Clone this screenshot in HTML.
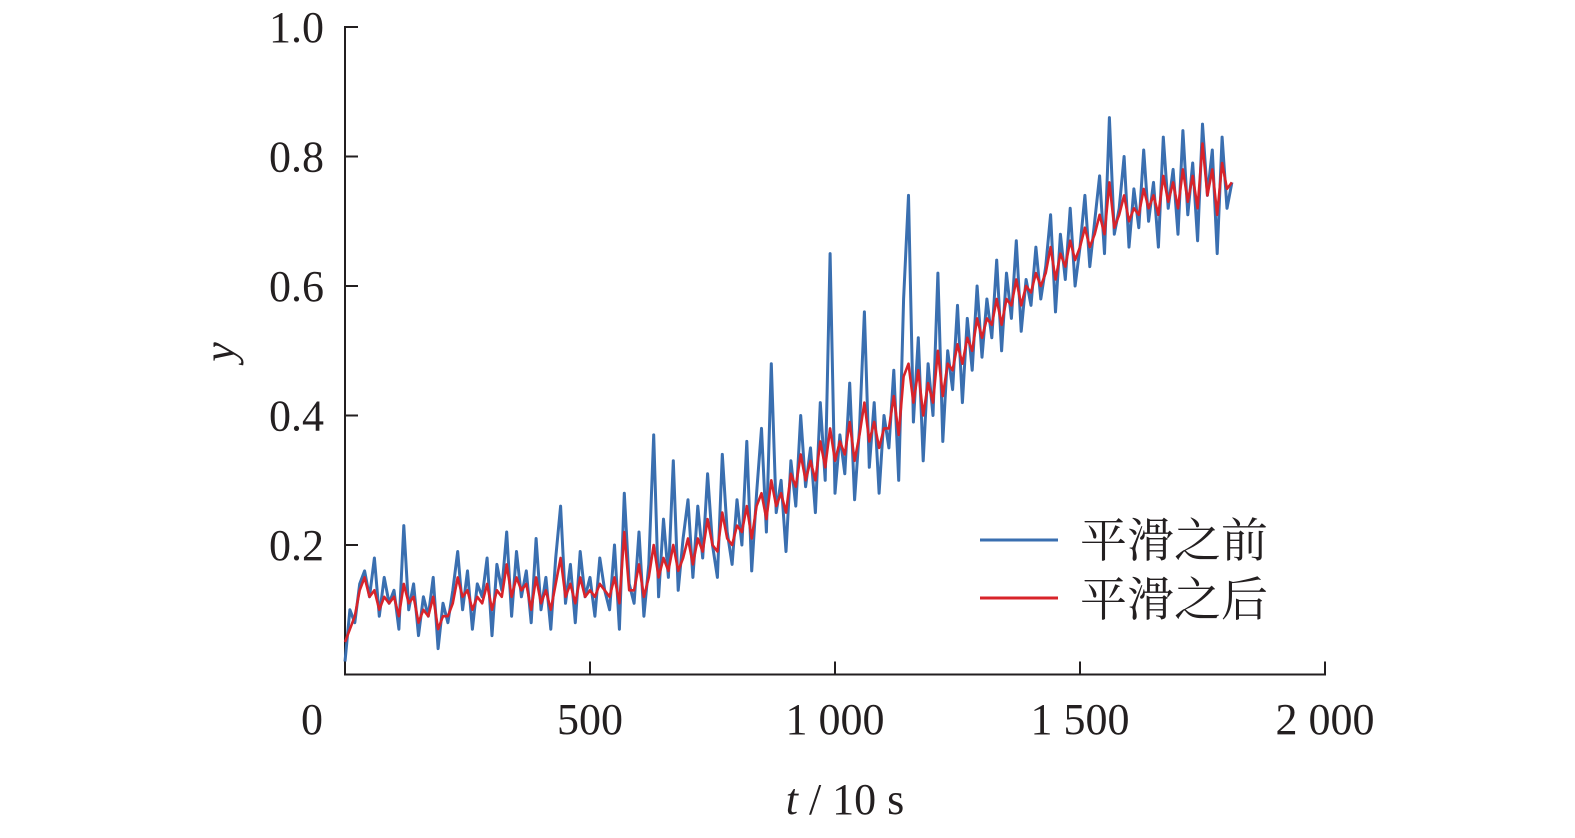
<!DOCTYPE html>
<html><head><meta charset="utf-8"><style>
body{margin:0;background:#fff;}
svg text{font-family:"Liberation Serif","Noto Serif CJK SC",serif;fill:#231f20;}
</style></head><body>
<svg id="chart" width="1575" height="833" viewBox="0 0 1575 833" xmlns="http://www.w3.org/2000/svg">
<g id="axes"></g>
<g id="series"></g>
<g id="legend">
<line x1="980" y1="540" x2="1058" y2="540" stroke="#3a6fb0" stroke-width="3"/>
<text x="1080" y="557" font-size="47" font-family="Noto Serif CJK SC, serif">平滑之前</text>
<line x1="980" y1="598" x2="1058" y2="598" stroke="#d8232a" stroke-width="3"/>
<text x="1080" y="616" font-size="47" font-family="Noto Serif CJK SC, serif">平滑之后</text>
</g>
<text transform="translate(234,352) rotate(-90)" font-size="44" font-style="italic" text-anchor="middle">y</text>
<text x="845" y="814" font-size="44" text-anchor="middle"><tspan font-style="italic">t</tspan> / 10 s</text>
</svg>
<script>
const xStep = 10;
const blueValues = [0.02,0.10,0.08,0.14,0.16,0.12,0.18,0.09,0.15,0.11,0.13,
0.07,0.23,0.10,0.14,0.06,0.12,0.09,0.15,0.04,0.11,
0.08,0.13,0.19,0.10,0.16,0.07,0.14,0.12,0.18,0.06,
0.17,0.13,0.22,0.09,0.19,0.12,0.16,0.08,0.21,0.10,
0.15,0.07,0.18,0.26,0.11,0.17,0.08,0.19,0.12,0.15,
0.09,0.18,0.13,0.10,0.20,0.07,0.28,0.14,0.11,0.22,
0.09,0.17,0.37,0.12,0.24,0.15,0.33,0.13,0.21,0.27,
0.15,0.26,0.18,0.31,0.20,0.15,0.34,0.22,0.17,0.27,
0.20,0.36,0.16,0.28,0.38,0.22,0.48,0.25,0.30,0.19,
0.33,0.26,0.40,0.29,0.35,0.25,0.42,0.30,0.65,0.28,
0.37,0.31,0.45,0.27,0.38,0.56,0.32,0.42,0.28,0.40,
0.35,0.47,0.30,0.58,0.74,0.39,0.52,0.33,0.48,0.40,
0.62,0.36,0.50,0.44,0.57,0.42,0.55,0.47,0.60,0.49,
0.58,0.52,0.64,0.50,0.62,0.55,0.67,0.53,0.61,0.57,
0.66,0.58,0.63,0.71,0.56,0.68,0.61,0.72,0.60,0.66,
0.74,0.63,0.70,0.77,0.65,0.86,0.68,0.72,0.80,0.66,
0.75,0.69,0.81,0.70,0.76,0.66,0.83,0.72,0.78,0.68,
0.84,0.71,0.79,0.67,0.85,0.74,0.81,0.65,0.83,0.72,0.76];
const redValues = [0.05,0.07,0.09,0.13,0.15,0.12,0.13,0.10,0.12,0.11,0.12,
0.09,0.14,0.11,0.12,0.08,0.10,0.09,0.12,0.07,0.09,
0.09,0.11,0.15,0.12,0.13,0.10,0.12,0.11,0.14,0.10,
0.13,0.12,0.17,0.12,0.15,0.13,0.14,0.10,0.15,0.11,
0.13,0.10,0.14,0.18,0.12,0.14,0.11,0.15,0.12,0.13,
0.12,0.14,0.13,0.12,0.15,0.11,0.22,0.13,0.13,0.17,
0.12,0.15,0.20,0.15,0.18,0.16,0.20,0.16,0.18,0.21,
0.17,0.21,0.19,0.24,0.20,0.19,0.25,0.21,0.20,0.23,
0.22,0.26,0.21,0.26,0.28,0.24,0.30,0.26,0.28,0.25,
0.31,0.29,0.34,0.30,0.33,0.30,0.36,0.32,0.38,0.33,
0.36,0.34,0.39,0.33,0.37,0.42,0.36,0.39,0.35,0.38,
0.38,0.43,0.37,0.46,0.48,0.42,0.47,0.40,0.45,0.42,
0.50,0.43,0.48,0.47,0.51,0.48,0.52,0.50,0.55,0.52,
0.55,0.54,0.58,0.54,0.58,0.57,0.61,0.57,0.60,0.59,
0.62,0.60,0.62,0.66,0.61,0.65,0.63,0.67,0.64,0.66,
0.69,0.66,0.68,0.71,0.68,0.76,0.69,0.71,0.74,0.70,
0.72,0.71,0.75,0.72,0.74,0.71,0.77,0.73,0.76,0.72,
0.78,0.73,0.77,0.72,0.82,0.74,0.78,0.71,0.79,0.75,0.76];
const xTicks = [0,500,1000,1500,2000];
const xTickLabels = ["0","500","1 000","1 500","2 000"];
const yTicks = [0.2,0.4,0.6,0.8,1.0];
const yTickLabels = ["0.2","0.4","0.6","0.8","1.0"];

const NS="http://www.w3.org/2000/svg";
const X0=345,X1=1325,Y0=674.5,Y1=27;
const xs=v=>X0+(v-0)/(2000-0)*(X1-X0);
const ys=v=>Y0+(v-0)/(1-0)*(Y1-Y0);
const axes=document.getElementById('axes');
function mk(tag,attrs,parent){const e=document.createElementNS(NS,tag);for(const k in attrs)e.setAttribute(k,attrs[k]);parent.appendChild(e);return e;}

let a=mk('line',{x1:X0,y1:Y0,x2:X1+1,y2:Y0,stroke:'#231f20','stroke-width':2},axes);


a=mk('line',{x1:X0,y1:Y0+1,x2:X0,y2:Y1-1,stroke:'#231f20','stroke-width':2},axes);



xTicks.forEach((t,i)=>{
  if(t>0){const l=mk('line',{x1:xs(t),y1:Y0,x2:xs(t),y2:Y0-13,stroke:'#231f20','stroke-width':2},axes);
  
  }
  const tx=mk('text',{x:t===0?312:xs(t),y:734,'font-size':44,'text-anchor':'middle'},axes);
  tx.textContent=xTickLabels[i];
  
  
});
yTicks.forEach((t,i)=>{
  const l=mk('line',{x1:X0,y1:ys(t),x2:X0+13,y2:ys(t),stroke:'#231f20','stroke-width':2},axes);
  
  
  const tx=mk('text',{x:324,y:ys(t)+15,'font-size':44,'text-anchor':'end'},axes);
  tx.textContent=yTickLabels[i];
  
  
});

const series=document.getElementById('series');
function line(vals,color,name,w){
  const d=vals.map((v,i)=>(i?'L':'M')+xs(i*xStep).toFixed(1)+' '+ys(v).toFixed(1)).join(' ');
  const p=mk('path',{d:d,fill:'none',stroke:color,'stroke-width':w,'stroke-linejoin':'round'},series);
  
  
}
line(blueValues,'#3a6fb0','series-before-smoothing',3);
line(redValues,'#d8232a','series-after-smoothing',2.6);
</script>
</body></html>
